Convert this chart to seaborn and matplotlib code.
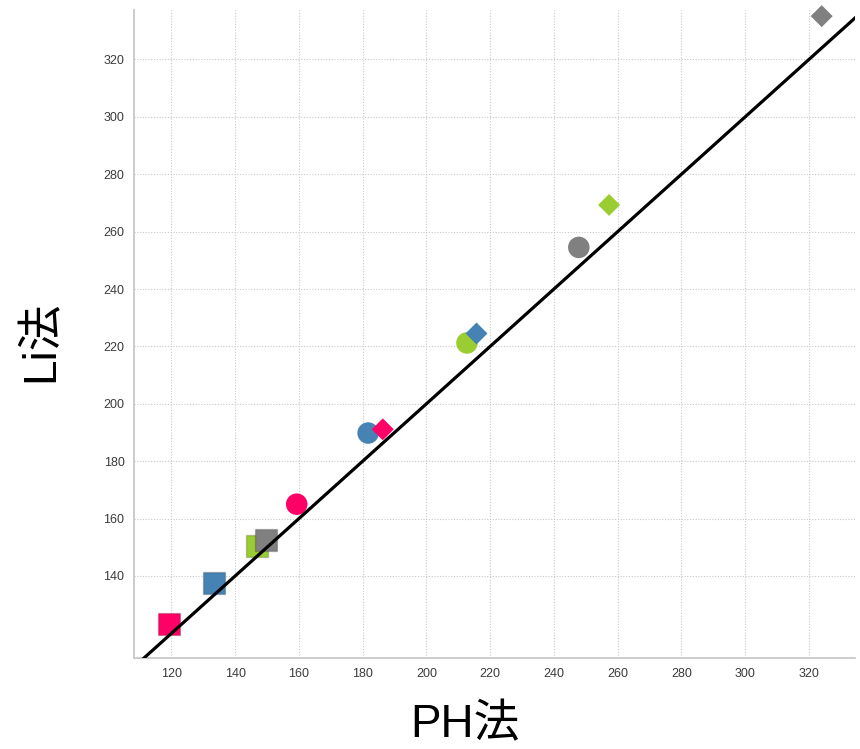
import matplotlib
matplotlib.use("Agg")
import matplotlib.pyplot as plt
import seaborn as sns
import pandas as pd

# ---- data ----
ph_values = [119.3, 133.3, 146.8, 149.6, 159.3, 181.7, 186.3, 212.7, 215.7, 247.8, 257.3, 324.0]
li_values = [123.2, 137.4, 150.4, 152.4, 165.0, 189.8, 191.1, 221.2, 224.5, 254.5, 269.3, 335.1]
groups = ["A", "B", "C", "D", "A", "B", "A", "C", "B", "D", "C", "D"]
shapes = ["square", "square", "square", "square", "circle", "circle", "diamond",
          "circle", "diamond", "circle", "diamond", "diamond"]
ref_line = [100, 345]
x_ticks = [120, 140, 160, 180, 200, 220, 240, 260, 280, 300, 320]
y_ticks = [140, 160, 180, 200, 220, 240, 260, 280, 300, 320]
x_label = "PH法"
y_label = "Li法"

palette = {"A": "#FF0066", "B": "#4682B4", "C": "#9ACD32", "D": "#808080"}
marker_map = {"square": "s", "circle": "o", "diamond": "D"}
size_map = {"square": 260, "circle": 240, "diamond": 125}

df = pd.DataFrame({"PH": ph_values, "Li": li_values, "group": groups, "shape": shapes})

sns.set_theme(style="white")
plt.rcParams["font.family"] = ["Liberation Sans", "Noto Sans CJK JP", "DejaVu Sans"]

fig = plt.figure(figsize=(8.6, 7.49), dpi=100)
ax = fig.add_axes([0.156, 0.1215, 0.838, 0.865])

for shp in ["square", "circle", "diamond"]:
    sub = df[df["shape"] == shp]
    for grp in ["A", "B", "C", "D"]:
        s2 = sub[sub["group"] == grp]
        if s2.empty:
            continue
        sns.scatterplot(data=s2, x="PH", y="Li", color=palette[grp],
                        marker=marker_map[shp], s=size_map[shp],
                        edgecolor=(0, 0, 0, 0.18) if shp == "square" else "none",
                        linewidth=1.0 if shp == "square" else 0,
                        legend=False, ax=ax, zorder=3, clip_on=False)

sns.lineplot(x=ref_line, y=ref_line, color="black", linewidth=2.3, ax=ax, zorder=4)

ax.set_xlim(108.3, 334.4)
ax.set_ylim(111.4, 337.2)
ax.set_xticks(x_ticks)
ax.set_yticks(y_ticks)
ax.grid(True, linestyle=(0, (1, 1.5)), color="#c8c8c8", linewidth=0.8)
ax.set_axisbelow(True)

for side in ["top", "right"]:
    ax.spines[side].set_visible(False)
for side in ["left", "bottom"]:
    ax.spines[side].set_color("#c4c4c4")
    ax.spines[side].set_linewidth(1.2)

ax.tick_params(axis="both", which="major", direction="out", length=4, width=0.8,
               color="#c4c4c4", labelsize=9, labelcolor="#3a3a3a", pad=3)

ax.set_xlabel(x_label, fontsize=33, color="black")
ax.set_ylabel(y_label, fontsize=33, color="black")
ax.xaxis.set_label_coords(0.459, -0.104)
ax.xaxis.label.set_va("center")
ax.yaxis.set_label_coords(-0.129, 0.489)
ax.yaxis.label.set_va("center")

fig.savefig("out.png", dpi=100)
